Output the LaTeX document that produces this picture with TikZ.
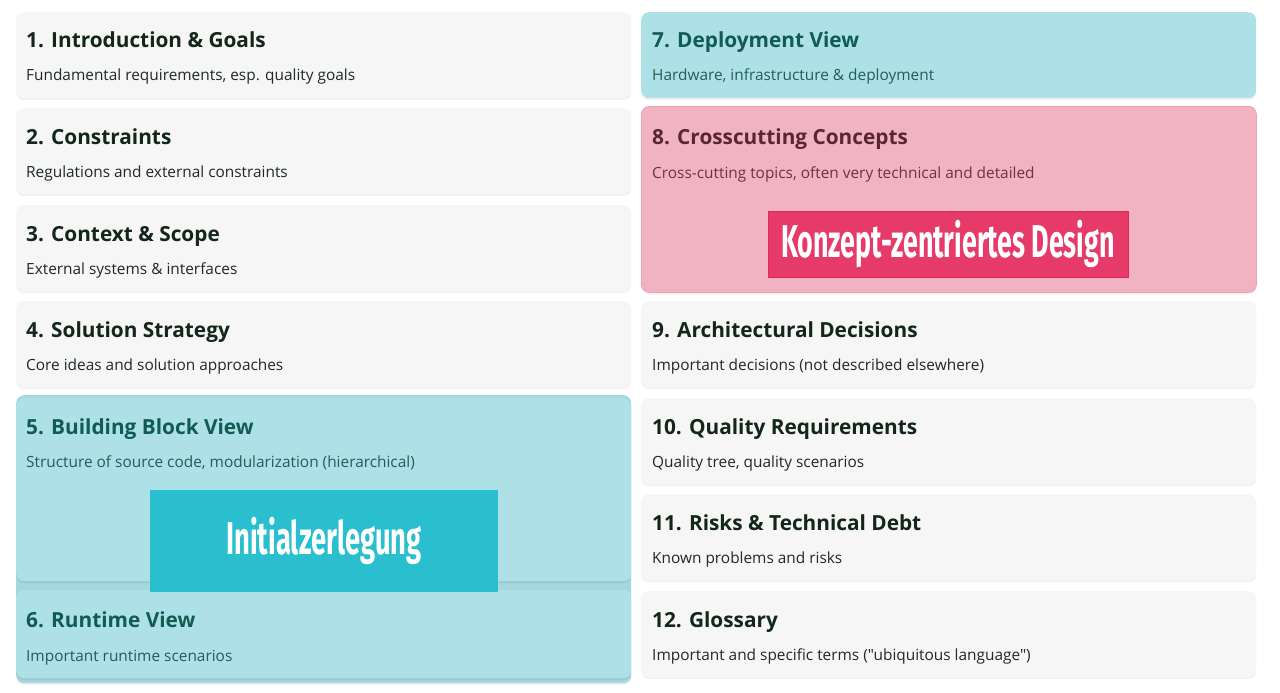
\documentclass[tikz,border=0pt]{standalone}
\usepackage{fontspec}
\setmainfont{Open Sans}[Ligatures=TeXOff]
\newfontfamily\condfont{Fira Sans}
\usetikzlibrary{shadows}
\definecolor{cardwhite}{HTML}{F6F6F6}
\definecolor{cardteal}{HTML}{AEE1E7}
\definecolor{groupteal}{HTML}{A3D8DE}
\definecolor{cardpink}{HTML}{F1B3C2}
\definecolor{pinkedge}{HTML}{E9A3B5}
\definecolor{titledark}{HTML}{13261A}
\definecolor{subdark}{HTML}{1E2A22}
\definecolor{titleteal}{HTML}{105C52}
\definecolor{subteal}{HTML}{1F5F58}
\definecolor{titlepink}{HTML}{5A2630}
\definecolor{subpink}{HTML}{6A3440}
\definecolor{boxteal}{HTML}{29BFCE}
\definecolor{boxred}{HTML}{E63A68}
\definecolor{boxrededge}{HTML}{E0285A}
\tikzset{
  card/.style={rectangle, rounded corners=8pt, minimum width=615pt, inner sep=0pt,
    anchor=north west, fill=cardwhite,
    drop shadow={opacity=0.10, shadow xshift=0pt, shadow yshift=-2pt}},
  wcard/.style={card, minimum height=86pt},
  tcard/.style={card, fill=cardteal},
  ttl/.style={anchor=base west, inner sep=0pt, font=\fontsize{20.8}{24}\selectfont\bfseries, text=titledark},
  sub/.style={anchor=base west, inner sep=0pt, font=\fontsize{15.4}{19}\selectfont, text=subdark},
  ttlteal/.style={ttl, text=titleteal},
  subteal/.style={sub, text=subteal},
  ttlpink/.style={ttl, text=titlepink},
  subpink/.style={sub, text=subpink},
  banner/.style={rectangle, inner sep=0pt, text=white}
}
\begin{document}
\begin{tikzpicture}[x=1pt,y=-1pt]
\useasboundingbox[fill=white] (0,0) rectangle (1280,693);
% left column
\node[wcard] (c1) at (16,12) {};
\node[ttl] (t1) at (26,48) {1. Introduction \& Goals};
\node[sub] (s1) at (26,81) {Fundamental requirements, esp. quality goals};
\node[wcard] (c2) at (16,108) {};
\node[ttl] (t2) at (26,144) {2. Constraints};
\node[sub] (s2) at (26,177) {Regulations and external constraints};
\node[wcard] (c3) at (16,205) {};
\node[ttl] (t3) at (26,241) {3. Context \& Scope};
\node[sub] (s3) at (26,274) {External systems \& interfaces};
\node[wcard] (c4) at (16,301) {};
\node[ttl] (t4) at (26,337) {4. Solution Strategy};
\node[sub] (s4) at (26,370) {Core ideas and solution approaches};
% group 5/6
\node[card, fill=groupteal, minimum height=288pt] (g56) at (16,395) {};
\node[tcard, minimum height=183pt, drop shadow={opacity=0.06, shadow xshift=0pt, shadow yshift=-2pt}] (c5) at (16,398) {};
\node[ttlteal] (t5) at (26,434) {5. Building Block View};
\node[subteal] (s5) at (26,467) {Structure of source code, modularization (hierarchical)};
\node[tcard, minimum height=88pt, drop shadow={opacity=0.06, shadow xshift=0pt, shadow yshift=-2pt}] (c6) at (16,590) {};
\node[ttlteal] (t6) at (26,627) {6. Runtime View};
\node[subteal] (s6) at (26,661) {Important runtime scenarios};
\node[banner, fill=boxteal, minimum width=348pt, minimum height=102pt] (b1) at (324,541)
  {\scalebox{0.594}[1]{\condfont\bfseries\fontsize{46}{50}\selectfont Initialzerlegung}};
% right column
\node[tcard, minimum height=86pt] (c7) at (641,12) {};
\node[ttlteal] (t7) at (652,48) {7. Deployment View};
\node[subteal] (s7) at (652,81) {Hardware, infrastructure \& deployment};
\node[card, fill=cardpink, draw=pinkedge, line width=0.8pt, minimum height=186pt] (c8) at (641,106) {};
\node[ttlpink] (t8) at (652,144) {8. Crosscutting Concepts};
\node[subpink] (s8) at (652,178) {Cross-cutting topics, often very technical and detailed};
\node[banner, fill=boxred, draw=boxrededge, line width=0.8pt, minimum width=360pt, minimum height=66pt] (b2) at (948,244)
  {\scalebox{0.583}[1]{\condfont\bfseries\fontsize{46}{50}\selectfont Konzept-zentriertes Design}};
\node[wcard] (c9) at (641,301) {};
\node[ttl] (t9) at (652,337) {9. Architectural Decisions};
\node[sub] (s9) at (652,370) {Important decisions (not described elsewhere)};
\node[wcard] (c10) at (641,398) {};
\node[ttl] (t10) at (652,434) {10. Quality Requirements};
\node[sub] (s10) at (652,467) {Quality tree, quality scenarios};
\node[wcard] (c11) at (641,494) {};
\node[ttl] (t11) at (652,530) {11. Risks \& Technical Debt};
\node[sub] (s11) at (652,563) {Known problems and risks};
\node[wcard] (c12) at (641,591) {};
\node[ttl] (t12) at (652,627) {12. Glossary};
\node[sub] (s12) at (652,660) {Important and specific terms ("ubiquitous language")};
\end{tikzpicture}
\end{document}
